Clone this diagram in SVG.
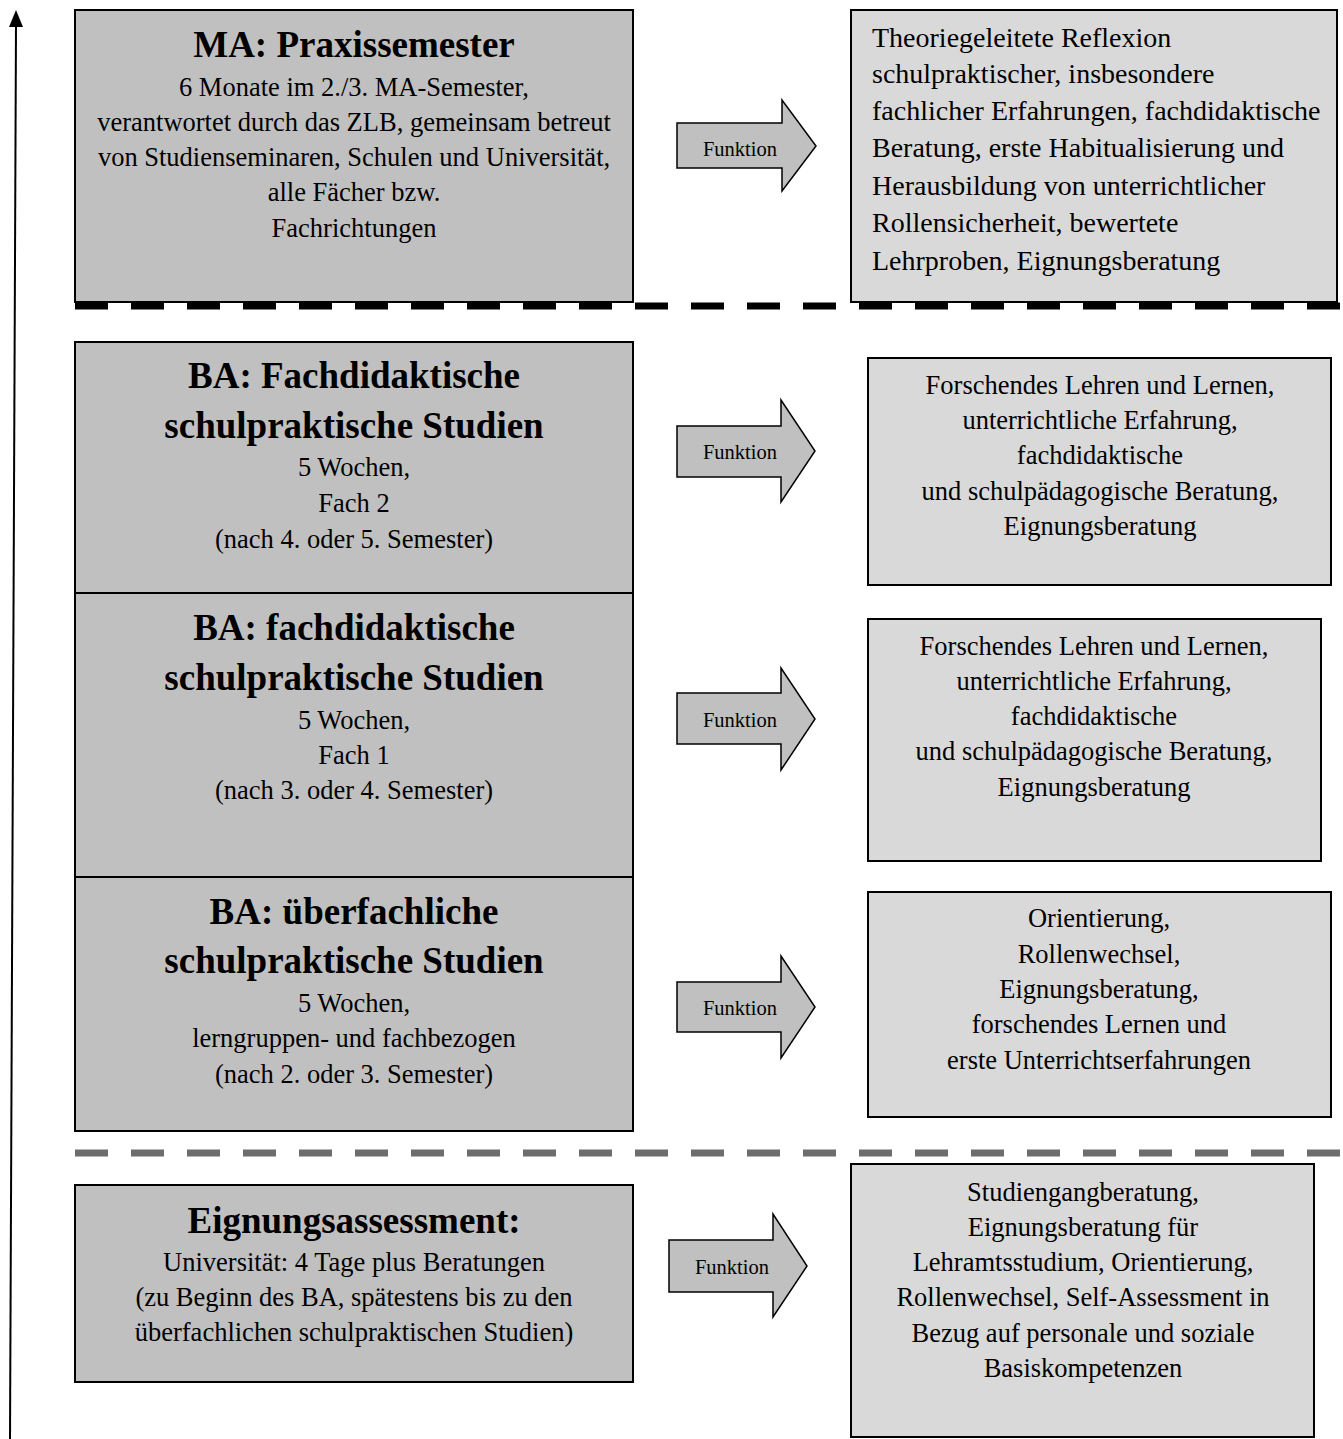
<svg xmlns="http://www.w3.org/2000/svg" width="1343" height="1439" viewBox="0 0 1343 1439">
<style>
.lbox{fill:#c0c0c0;stroke:#000;stroke-width:2}
.rbox{fill:#d9d9d9;stroke:#000;stroke-width:2}
.arr{fill:#c0c0c0;stroke:#000;stroke-width:1.5;stroke-linejoin:miter}
text{font-family:"Liberation Serif","Times New Roman",serif;fill:#000}
.t{font-size:37px;font-weight:bold;text-anchor:middle}
.b{font-size:26.5px;text-anchor:middle}
.bl{font-size:28px}
.f{font-size:20.5px;text-anchor:middle}
</style>
<rect width="1343" height="1439" fill="#fff"/>
<g id="axis">
<line x1="10" y1="1439" x2="16" y2="24" stroke="#000" stroke-width="2"/>
<polygon points="16,10 9,27 23,27" fill="#000"/>
</g>
<g id="separators">
<line x1="75" y1="306" x2="1343" y2="306" stroke="#000" stroke-width="7" stroke-dasharray="33 23"/>
<line x1="75" y1="1153" x2="1343" y2="1153" stroke="#6d6d6d" stroke-width="7" stroke-dasharray="33 23"/>
</g>
<g id="ma">
<rect class="lbox" x="75" y="10" width="558" height="292"/>
<text class="t" x="354" y="57">MA: Praxissemester</text>
<text class="b" x="354" y="96">6 Monate im 2./3. MA-Semester,</text>
<text class="b" x="354" y="131">verantwortet durch das ZLB, gemeinsam betreut</text>
<text class="b" x="354" y="166">von Studienseminaren, Schulen und Universität,</text>
<text class="b" x="354" y="201">alle Fächer bzw.</text>
<text class="b" x="354" y="237">Fachrichtungen</text>
</g>
<g id="ba3">
<rect class="lbox" x="75" y="342" width="558" height="251"/>
<text class="t" x="354" y="388">BA: Fachdidaktische</text>
<text class="t" x="354" y="438">schulpraktische Studien</text>
<text class="b" x="354" y="476">5 Wochen,</text>
<text class="b" x="354" y="512">Fach 2</text>
<text class="b" x="354" y="548">(nach 4. oder 5. Semester)</text>
</g>
<g id="ba2">
<rect class="lbox" x="75" y="593" width="558" height="284"/>
<text class="t" x="354" y="640">BA: fachdidaktische</text>
<text class="t" x="354" y="690">schulpraktische Studien</text>
<text class="b" x="354" y="729">5 Wochen,</text>
<text class="b" x="354" y="764">Fach 1</text>
<text class="b" x="354" y="799">(nach 3. oder 4. Semester)</text>
</g>
<g id="ba1">
<rect class="lbox" x="75" y="877" width="558" height="254"/>
<text class="t" x="354" y="924">BA: überfachliche</text>
<text class="t" x="354" y="973">schulpraktische Studien</text>
<text class="b" x="354" y="1012">5 Wochen,</text>
<text class="b" x="354" y="1047">lerngruppen- und fachbezogen</text>
<text class="b" x="354" y="1083">(nach 2. oder 3. Semester)</text>
</g>
<g id="ea">
<rect class="lbox" x="75" y="1185" width="558" height="197"/>
<text class="t" x="354" y="1233">Eignungsassessment:</text>
<text class="b" x="354" y="1271">Universität: 4 Tage plus Beratungen</text>
<text class="b" x="354" y="1306">(zu Beginn des BA, spätestens bis zu den</text>
<text class="b" x="354" y="1341">überfachlichen schulpraktischen Studien)</text>
</g>
<g id="connectors">
<g id="arrow1">
<polygon class="arr" points="677,123 782,123 782,100 816,146 782,191 782,168 677,168"/>
<text class="f" x="740" y="156">Funktion</text>
</g>
<g id="arrow2">
<polygon class="arr" points="677,426 781,426 781,400 815,451 781,502 781,477 677,477"/>
<text class="f" x="740" y="459">Funktion</text>
</g>
<g id="arrow3">
<polygon class="arr" points="677,693 781,693 781,668 815,719 781,770 781,744 677,744"/>
<text class="f" x="740" y="727">Funktion</text>
</g>
<g id="arrow4">
<polygon class="arr" points="677,982 781,982 781,956 815,1007 781,1058 781,1032 677,1032"/>
<text class="f" x="740" y="1015">Funktion</text>
</g>
<g id="arrow5">
<polygon class="arr" points="669,1240 773,1240 773,1214 807,1266 773,1317 773,1292 669,1292"/>
<text class="f" x="732" y="1274">Funktion</text>
</g>
</g>
<g id="f-ma">
<rect class="rbox" x="851" y="10" width="486" height="292"/>
<text class="bl" x="872" y="47">Theoriegeleitete Reflexion</text>
<text class="bl" x="872" y="83">schulpraktischer, insbesondere</text>
<text class="bl" x="872" y="120">fachlicher Erfahrungen, fachdidaktische</text>
<text class="bl" x="872" y="157">Beratung, erste Habitualisierung und</text>
<text class="bl" x="872" y="195">Herausbildung von unterrichtlicher</text>
<text class="bl" x="872" y="232">Rollensicherheit, bewertete</text>
<text class="bl" x="872" y="270">Lehrproben, Eignungsberatung</text>
</g>
<g id="f-ba3">
<rect class="rbox" x="868" y="358" width="463" height="227"/>
<text class="b" x="1100" y="394">Forschendes Lehren und Lernen,</text>
<text class="b" x="1100" y="429">unterrichtliche Erfahrung,</text>
<text class="b" x="1100" y="464">fachdidaktische</text>
<text class="b" x="1100" y="500">und schulpädagogische Beratung,</text>
<text class="b" x="1100" y="535">Eignungsberatung</text>
</g>
<g id="f-ba2">
<rect class="rbox" x="868" y="619" width="453" height="242"/>
<text class="b" x="1094" y="655">Forschendes Lehren und Lernen,</text>
<text class="b" x="1094" y="690">unterrichtliche Erfahrung,</text>
<text class="b" x="1094" y="725">fachdidaktische</text>
<text class="b" x="1094" y="760">und schulpädagogische Beratung,</text>
<text class="b" x="1094" y="796">Eignungsberatung</text>
</g>
<g id="f-ba1">
<rect class="rbox" x="868" y="892" width="463" height="225"/>
<text class="b" x="1099" y="927">Orientierung,</text>
<text class="b" x="1099" y="963">Rollenwechsel,</text>
<text class="b" x="1099" y="998">Eignungsberatung,</text>
<text class="b" x="1099" y="1033">forschendes Lernen und</text>
<text class="b" x="1099" y="1069">erste Unterrichtserfahrungen</text>
</g>
<g id="f-ea">
<rect class="rbox" x="851" y="1164" width="463" height="273"/>
<text class="b" x="1083" y="1201">Studiengangberatung,</text>
<text class="b" x="1083" y="1236">Eignungsberatung für</text>
<text class="b" x="1083" y="1271">Lehramtsstudium, Orientierung,</text>
<text class="b" x="1083" y="1306">Rollenwechsel, Self-Assessment in</text>
<text class="b" x="1083" y="1342">Bezug auf personale und soziale</text>
<text class="b" x="1083" y="1377">Basiskompetenzen</text>
</g>
</svg>
